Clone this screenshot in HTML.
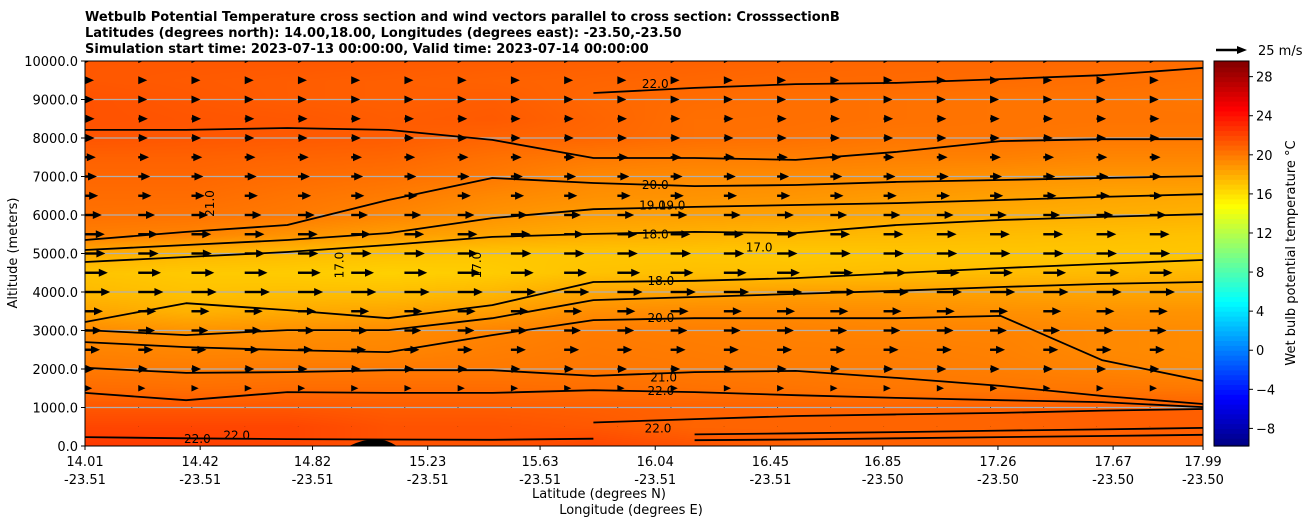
<!DOCTYPE html>
<html><head><meta charset="utf-8">
<style>
body{margin:0;background:#fff;width:1311px;height:526px;overflow:hidden;font-family:"DejaVu Sans","Liberation Sans",sans-serif;}
svg text{font-family:"DejaVu Sans","Liberation Sans",sans-serif;}
</style></head>
<body>
<svg id="chart" width="1311" height="526" xmlns="http://www.w3.org/2000/svg">
<defs><clipPath id="plotclip"><rect x="85" y="61" width="1118" height="385"/></clipPath></defs>
<g font-size="13" font-weight="bold" fill="#000">
<text x="85" y="21">Wetbulb Potential Temperature cross section and wind vectors parallel to cross section: CrosssectionB</text>
<text x="85" y="37">Latitudes (degrees north): 14.00,18.00, Longitudes (degrees east): -23.50,-23.50</text>
<text x="85" y="53">Simulation start time: 2023-07-13 00:00:00, Valid time: 2023-07-14 00:00:00</text>
</g>
<foreignObject x="85" y="61" width="1118" height="385"><canvas xmlns="http://www.w3.org/1999/xhtml" id="field" width="1118" height="385" style="display:block"></canvas></foreignObject>
<g id="grid"></g>
<g id="contours" clip-path="url(#plotclip)"></g>
<g id="labels" font-size="12" fill="#000"></g>
<g id="winds" clip-path="url(#plotclip)"></g>
<rect x="85" y="61" width="1118" height="385" fill="none" stroke="#000" stroke-width="1"/>
<g id="yaxis" font-size="13"></g>
<g id="xaxis" font-size="13"></g>
<text x="17" y="253" font-size="13" text-anchor="middle" transform="rotate(-90 17 253)">Altitude (meters)</text>
<text x="599" y="498" font-size="13" text-anchor="middle">Latitude (degrees N)</text>
<text x="631" y="514" font-size="13" text-anchor="middle">Longitude (degrees E)</text>
<g id="cbar" font-size="13"></g>
<text x="1295" y="253" font-size="13" text-anchor="middle" transform="rotate(-90 1295 253)">Wet bulb potential temperature °C</text>
<g>
<line x1="1216" y1="50" x2="1238" y2="50" stroke="#000" stroke-width="2.4"/>
<polygon points="1247,50 1237,46 1237,54" fill="#000"/>
<text x="1258" y="55" font-size="13">25 m/s</text>
</g>
</svg>
<script>
const lats=[14.01,14.37,14.73,15.09,15.46,15.82,16.18,16.54,16.90,17.27,17.63,17.99];
const alts=[0,500,1000,1500,2000,2500,3000,3500,4000,4500,5000,5500,6000,6500,7000,7500,8000,8500,9000,9500,10000];
const temps=[
[22.5,22.3,22,21.5,21.5,22,21.5,21,21,21,21,21],
[22,22,22,21.5,21.5,21.3,20.8,20.8,20.8,20.8,21,21],
[21.3,21.3,21.3,21.1,21.1,21,20.9,20.8,20.8,20.9,21,21],
[20.5,20.4,20.5,20.5,20.5,20.4,20.3,20.2,20.1,20.1,20.1,20],
[20,19.9,20,20,20,20.1,20,19.9,19.9,19.8,19.6,19.4],
[19.6,19.5,19.5,19.5,19.8,20,19.9,19.8,19.8,19.7,19.4,19.3],
[19.3,19,19.1,19.3,19.6,19.9,19.8,19.7,19.6,19.6,19.4,19.3],
[18.3,17.8,18.1,18.3,18.6,19.2,19.3,19.3,19.2,19.1,19,19],
[17.5,17.2,17.3,17.3,17.6,18.3,18.4,18.5,18.5,18.4,18.3,18.3],
[17.1,16.9,16.8,16.6,16.8,17.2,17.3,17.3,17.4,17.4,17.5,17.6],
[18,17.6,17.4,17.2,17,17,17,16.9,17,17,17,17],
[19.8,19.6,19,18.6,18.3,18,17.8,17.6,17.5,17.4,17.3,17.2],
[20.3,20.2,20,19.5,19,18.6,18.5,18.4,18.2,18,17.9,17.8],
[20.5,20.5,20.2,19.9,19.4,19.1,19,18.9,18.7,18.5,18.3,18.2],
[20.7,20.7,20.5,20.3,20,19.4,19.3,19.3,19.2,19,18.9,18.9],
[20.9,20.9,20.8,20.7,20.3,20,19.8,19.8,19.7,19.7,19.5,19.5],
[21.4,21.3,21.2,21.1,20.8,20.7,20.4,20.3,20.1,20.2,20,20],
[21.5,21.4,21.3,21.1,21.2,20.8,20.4,20.4,20.3,20.2,20.2,20.2],
[21.5,21.3,21.1,21,21.1,20.7,20.5,20.4,20.3,20.2,20.2,20.1],
[21.3,21.2,21.1,21,20.9,20.8,20.7,20.6,20.6,20.5,20.4,20.3],
[21.3,21.3,21.3,21.2,21.1,21,20.9,20.8,20.7,20.7,20.6,20.5]];
const contourA=[8210,8210,8260,8210,7950,7480,7480,7430,7640,7920,7970,7970];
const contourB=[9170,9300,9400,9430,9530,9630,9820];
const contourC=[5350,5560,5740,6390,6960,6830,6750,6780,6860,6910,6960,7010];
const contourD=[5090,5220,5350,5530,5920,6150,6210,6260,6310,6390,6470,6540];
const contourE=[4780,4910,5040,5220,5430,5510,5560,5530,5740,5870,5950,6020];
const contourG=[3220,3710,3530,3320,3660,4260,4290,4360,4490,4620,4730,4830];
const contourH=[3010,2880,3010,3010,3320,3790,3870,3950,4030,4130,4210,4260];
const contourI=[2700,2570,2490,2440,2880,3270,3320,3320,3320,3380,2230,1690];
const contourJ=[2030,1900,1920,1970,1970,1820,1920,1950,1770,1560,1300,1090];
const contourK=[1380,1190,1400,1380,1380,1450,1400,1320,1250,1190,1140,1010];
const contourL=[610,700,780,820,860,920,960];
const contourM=[230,200,180,170,160,190];
const contourN=[300,330,360,400,430,470];
const contourP=[150,170,200,230,260,290];
const startIdx={A:0,B:5,C:0,D:0,E:0,G:0,H:0,I:0,J:0,K:0,L:5,M:0,N:6,P:6};
const labelText=["22.0","20.0","19.0","19.0","18.0","17.0","18.0","20.0","21.0","22.0","22.0","22.0","22.0"];
const labelLat=[16.04,16.04,16.03,16.10,16.04,16.41,16.06,16.06,16.07,16.06,16.05,14.41,14.55];
const labelAlt=[9400,6780,6250,6250,5500,5160,4290,3320,1780,1430,450,180,270];
const windAlts=alts;
const windSpeed=[0,0.5,1,6,8,12.5,14,15,21,19,17,16.5,14,11,10,9,8,8,7.5,7.5,4];
const windCols=22;
const cbTicks=[-8,-4,0,4,8,12,16,20,24,28];
const vmin=-9.8,vmax=29.6;

const X0=85,X1=1203,Y0=446,Y1=61;
const xs=l=>X0+(l-14.01)/(17.99-14.01)*(X1-X0);
const ys=a=>Y0-a/10000*(Y0-Y1);
function jet(f){f=Math.max(0,Math.min(1,f));
 const c=v=>Math.round(255*Math.max(0,Math.min(1,v)));
 return [c(1.5-Math.abs(4*f-3)),c(1.5-Math.abs(4*f-2)),c(1.5-Math.abs(4*f-1))];}
const NS="http://www.w3.org/2000/svg";
function mk(t,a,p){const e=document.createElementNS(NS,t);for(const k in a)e.setAttribute(k,a[k]);p.appendChild(e);return e;}

const cv=document.getElementById('field'),ctx=cv.getContext('2d');
const img=ctx.createImageData(1118,385);
for(let py=0;py<385;py++){const a=(385-py)/385*10000;let r=Math.min(alts.length-2,Math.floor(a/500));const fy=(a-alts[r])/500;
 for(let px=0;px<1118;px++){const l=14.01+px/1118*3.98;let c=0;while(c<lats.length-2&&l>lats[c+1])c++;
  const fx=Math.max(0,Math.min(1,(l-lats[c])/(lats[c+1]-lats[c])));
  const v=(temps[r][c]*(1-fx)+temps[r][c+1]*fx)*(1-fy)+(temps[r+1][c]*(1-fx)+temps[r+1][c+1]*fx)*fy;
  const col=jet((v-vmin)/(vmax-vmin));const i=(py*1118+px)*4;
  img.data[i]=col[0];img.data[i+1]=col[1];img.data[i+2]=col[2];img.data[i+3]=255;}}
ctx.putImageData(img,0,0);

const grid=document.getElementById('grid');
for(let a=1000;a<10000;a+=1000){const g=mk('line',{x1:X0,x2:X1,y1:ys(a),y2:ys(a),stroke:'#b0b0b0','stroke-width':1.2},grid);
 
 }

const cg=document.getElementById('contours');
const cset={A:contourA,B:contourB,C:contourC,D:contourD,E:contourE,G:contourG,H:contourH,I:contourI,J:contourJ,K:contourK,L:contourL,M:contourM,N:contourN,P:contourP};
for(const k in cset){const arr=cset[k],s=startIdx[k];
 const pts=arr.map((a,i)=>xs(lats[s+i]).toFixed(1)+','+ys(a).toFixed(1)).join(' ');
 const p=mk('polyline',{points:pts,fill:'none',stroke:'#000','stroke-width':1.8,'stroke-linejoin':'round'},cg);
 
 }
const tb=mk('path',{d:`M${xs(14.95)},${ys(0)} Q${xs(15.05)},${ys(350)} ${xs(15.12)},${ys(0)} Z`,fill:'#000'},cg);



const lg=document.getElementById('labels');
labelText.forEach((t,i)=>{const e=mk('text',{x:xs(labelLat[i]),y:ys(labelAlt[i])+4,'text-anchor':'middle'},lg);e.textContent=t;
 
 });
[[14.47,6300,'21.0'],[14.93,4700,'17.0'],[15.42,4700,'17.0']].forEach(d=>{const x=xs(d[0]),y=ys(d[1]);
 const e=mk('text',{x:x,y:y,'text-anchor':'middle',transform:`rotate(-90 ${x} ${y})`},lg);e.textContent=d[2];
 
 });

const wg=document.getElementById('winds');
windAlts.forEach((a,r)=>{const L=windSpeed[r]*1.2;for(let c=0;c<windCols;c++){
 const x=X0+c*(X1-X0)/(windCols-1),y=ys(a);if(L<=0.3)continue;
 let hl=9,hw=4,sw=1.2;const s=Math.min(1,L/hl);hl*=s;hw*=s;
 const g=mk('g',{},wg);
 
 
 if(L>hl)mk('rect',{x:x,y:y-sw,width:L-hl+1,height:2*sw,fill:'#000'},g);
 mk('polygon',{points:`${x+L},${y} ${x+L-hl},${y-hw} ${x+L-hl},${y+hw}`,fill:'#000'},g);}});

const ya=document.getElementById('yaxis');
for(let a=0;a<=10000;a+=1000){mk('line',{x1:X0-4,x2:X0,y1:ys(a),y2:ys(a),stroke:'#000'},ya);
 const t=mk('text',{x:X0-7,y:ys(a)+5,'text-anchor':'end'},ya);t.textContent=a.toFixed(1);
 
 }
const xTickLat=["14.01","14.42","14.82","15.23","15.63","16.04","16.45","16.85","17.26","17.67","17.99"];
const xTickLon=["-23.51","-23.51","-23.51","-23.51","-23.51","-23.51","-23.51","-23.50","-23.50","-23.50","-23.50"];
const xa=document.getElementById('xaxis');
xTickLat.forEach((l,i)=>{const x=xs(+l);mk('line',{x1:x,x2:x,y1:Y0,y2:Y0+4,stroke:'#000'},xa);
 const t=mk('text',{x:x,y:466,'text-anchor':'middle'},xa);t.textContent=l;
 
 
 const t2=mk('text',{x:x,y:484,'text-anchor':'middle'},xa);t2.textContent=xTickLon[i];
 
 });
const cb=document.getElementById('cbar');const CX=1214,CW=35;
const cy=v=>Y0-(v-vmin)/(vmax-vmin)*(Y0-Y1);
for(let v=-10;v<30;v+=0.5){const lo=Math.max(v,vmin),hi=Math.min(v+0.5,vmax);if(hi<=lo)continue;
 const col=jet((v+0.25-vmin)/(vmax-vmin));
 const r=mk('rect',{x:CX,y:cy(hi),width:CW,height:cy(lo)-cy(hi)+0.6,fill:`rgb(${col})`},cb);
 
 }
mk('rect',{x:CX,y:Y1,width:CW,height:Y0-Y1,fill:'none',stroke:'#000'},cb);
cbTicks.forEach(v=>{mk('line',{x1:CX+CW,x2:CX+CW+4,y1:cy(v),y2:cy(v),stroke:'#000'},cb);
 const t=mk('text',{x:CX+CW+7,y:cy(v)+5},cb);t.textContent=v<0?'\u2212'+(-v):String(v);
 
 });
</script>
</body></html>
